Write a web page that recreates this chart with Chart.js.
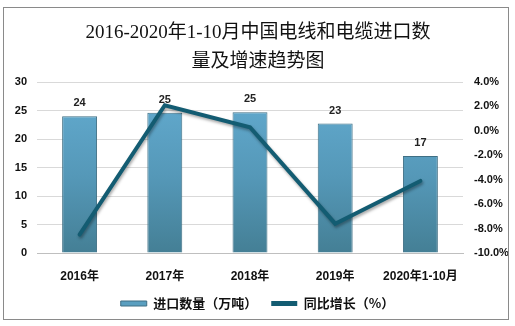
<!DOCTYPE html>
<html><head><meta charset="utf-8">
<script src="https://cdn.jsdelivr.net/npm/chart.js@4/dist/chart.umd.min.js"></script>
<style>
html,body{margin:0;padding:0;background:#fff;}
#wrap{position:absolute;left:0;top:0;width:515px;height:326px;}
#frame{position:absolute;left:3px;top:7px;width:506px;height:313px;border:1px solid #8a8a8a;box-sizing:border-box;pointer-events:none;}
</style></head>
<body>
<div id="wrap"><canvas id="c" width="515" height="326"></canvas><div id="frame"></div></div>
<script>
const categories = ['2016年','2017年','2018年','2019年','2020年1-10月'];
const importVolume = [24.0, 24.6, 24.7, 22.7, 17.0];
const volumeLabels = ['24','25','25','23','17'];
const growthRate = [-8.5, 2.1, 0.3, -7.6, -4.1];
const titleLines = ['2016-2020年1-10月中国电线和电缆进口数','量及增速趋势图'];
const seriesNames = ['进口数量（万吨）','同比增长（%）'];

const CJK = '"Noto Sans CJK SC"';
const tickFont = {family:'"Liberation Sans", ' + CJK, size:11, weight:'bold'};

const titlePlugin = {
  id:'titleDraw',
  afterDraw(chart){
    const ctx = chart.ctx;
    ctx.save();
    ctx.fillStyle = '#111';
    ctx.textAlign = 'center';
    ctx.textBaseline = 'middle';
    ctx.font = '19px "Liberation Serif", ' + CJK;
    ctx.fillText(titleLines[0], 258, 33);
    ctx.fillText(titleLines[1], 258, 62);
    ctx.restore();
  }
};

const valueLabelPlugin = {
  id:'valueLabels',
  afterDatasetsDraw(chart){
    const meta = chart.getDatasetMeta(0);
    const ctx = chart.ctx;
    ctx.save();
    ctx.fillStyle = '#222';
    ctx.textAlign = 'center';
    ctx.textBaseline = 'middle';
    ctx.font = 'bold 11px "Liberation Sans"';
    meta.data.forEach((el,i)=>{
      ctx.fillText(volumeLabels[i], el.x, el.y - 13);
    });
    ctx.restore();
  }
};

const shadowPlugin = {
  id:'lineShadow',
  beforeDatasetDraw(chart, args){
    if (args.meta.type === 'line') {
      const ctx = chart.ctx;
      ctx.save();
      ctx.shadowColor = 'rgba(0,0,0,0.35)';
      ctx.shadowBlur = 3;
      ctx.shadowOffsetX = 1;
      ctx.shadowOffsetY = 2;
    }
  },
  afterDatasetDraw(chart, args){
    if (args.meta.type === 'line') chart.ctx.restore();
  }
};

function barGradient(context){
  const chart = context.chart;
  const area = chart.chartArea;
  if (!area) return '#5a9fc0';
  const el = context.element;
  const ctx = chart.ctx;
  const top = el && el.y ? el.y : area.top;
  const g = ctx.createLinearGradient(0, top, 0, area.bottom);
  g.addColorStop(0, '#64add2');
  g.addColorStop(0.55, '#5598b8');
  g.addColorStop(1, '#447f95');
  return g;
}

new Chart(document.getElementById('c'), {
  data:{
    labels: categories,
    datasets:[
      {type:'bar', label:seriesNames[0], data:importVolume, yAxisID:'y', order:2,
       backgroundColor: barGradient, borderColor:'#3f6f84', borderWidth:1,
       barPercentage:0.82, categoryPercentage:0.5},
      {type:'line', label:seriesNames[1], data:growthRate, yAxisID:'y1', order:1,
       borderColor:'#135c72', backgroundColor:'#135c72', borderWidth:4,
       pointRadius:0, tension:0, borderCapStyle:'round', borderJoinStyle:'miter'}
    ]
  },
  options:{
    responsive:false, animation:false,
    layout:{padding:{top:82, left:6, right:6, bottom:6}},
    plugins:{
      legend:{
        position:'bottom',
        labels:{
          font:{family:CJK, size:13, weight:'bold'}, color:'#111',
          boxWidth:26, boxHeight:5, padding:14,
          sort:(a,b)=>a.datasetIndex-b.datasetIndex,
          generateLabels(chart){
            const items = Chart.defaults.plugins.legend.labels.generateLabels(chart);
            items.forEach(it=>{
              if (it.datasetIndex===0){ it.fillStyle='#5a9fc0'; it.strokeStyle='#3f6f84'; it.lineWidth=1; }
              else { it.fillStyle='#135c72'; it.strokeStyle='#135c72'; it.lineWidth=0; }
            });
            return items;
          }
        }
      },
      tooltip:{enabled:false}
    },
    scales:{
      x:{
        grid:{display:false},
        border:{color:'#bfbfbf'},
        ticks:{font:{family:'"Liberation Sans", ' + CJK, size:12, weight:'bold'}, color:'#111', padding:8, maxRotation:0},
        afterFit(s){ s.height = 30; }
      },
      y:{
        position:'left', min:0, max:30,
        ticks:{stepSize:5, font:tickFont, color:'#111', padding:10},
        grid:{color:'#d9d9d9', drawTicks:false},
        border:{display:false},
        afterFit(s){ s.width = 31; }
      },
      y1:{
        position:'right', min:-10, max:4,
        ticks:{stepSize:2, font:tickFont, color:'#111', padding:11,
          callback:v=>v.toFixed(1)+'%'},
        grid:{display:false, drawTicks:false},
        border:{display:false},
        afterFit(s){ s.width = 46; }
      }
    }
  },
  plugins:[titlePlugin, valueLabelPlugin, shadowPlugin]
});
</script>
</body></html>
